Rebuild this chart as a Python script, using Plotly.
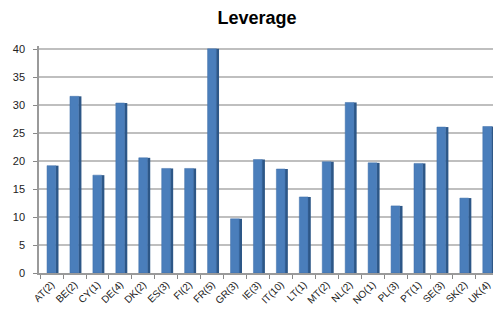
import plotly.graph_objects as go

categories = ["AT(2)", "BE(2)", "CY(1)", "DE(4)", "DK(2)", "ES(3)", "FI(2)", "FR(5)", "GR(3)", "IE(3)",
              "IT(10)", "LT(1)", "MT(2)", "NL(2)", "NO(1)", "PL(3)", "PT(1)", "SE(3)", "SK(2)", "UK(4)"]
leverage = [19.2, 31.6, 17.5, 30.4, 20.6, 18.7, 18.7, 40.1, 9.7, 20.3,
            18.6, 13.6, 19.9, 30.5, 19.7, 12.0, 19.6, 26.1, 13.4, 26.2]
y_ticks = [0, 5, 10, 15, 20, 25, 30, 35, 40]

fig = go.Figure()
# side face (3D look)
fig.add_trace(go.Bar(x=categories, y=leverage, width=0.13, offset=0.17,
                     marker=dict(color="#2d5787", line=dict(width=0)), hoverinfo="skip"))
# front face
fig.add_trace(go.Bar(x=categories, y=leverage, width=0.38, offset=-0.2,
                     marker=dict(color="#4a7ebb", line=dict(color="#3f6fa8", width=0.5)),
                     name="Leverage"))

# page body has an 8px margin, so the figure is sized to fit the 501x311 window
fig.update_layout(
    width=493, height=303,
    barmode="overlay",
    showlegend=False,
    plot_bgcolor="white", paper_bgcolor="white",
    margin=dict(l=31, r=1, t=38, b=38, autoexpand=False),
    title=dict(text="<b>Leverage</b>", x=0.505, xanchor="center", y=0.967, yanchor="middle",
               font=dict(family="Liberation Sans, Arial", size=18, color="#000000")),
    font=dict(family="Liberation Sans, Arial", size=11, color="#1a1a1a"),
)
fig.update_xaxes(type="category", range=[-0.55, len(categories) - 0.45], tickangle=-45,
                 tickson="boundaries", ticks="outside", ticklen=4, tickcolor="#888888",
                 showline=True, linecolor="#9a9a9a", linewidth=1.5, showgrid=False,
                 tickfont=dict(size=10), automargin=False)
fig.update_yaxes(range=[0, 40.6], tickvals=y_ticks, ticks="outside", ticklen=4, tickcolor="#888888",
                 showline=True, linecolor="#9a9a9a", linewidth=1.5, ticklabelstandoff=6,
                 showgrid=True, gridcolor="#bfbfbf", gridwidth=1.5, zeroline=False,
                 tickfont=dict(size=11, color="#222222"), automargin=False)

fig.write_html("out.html")
